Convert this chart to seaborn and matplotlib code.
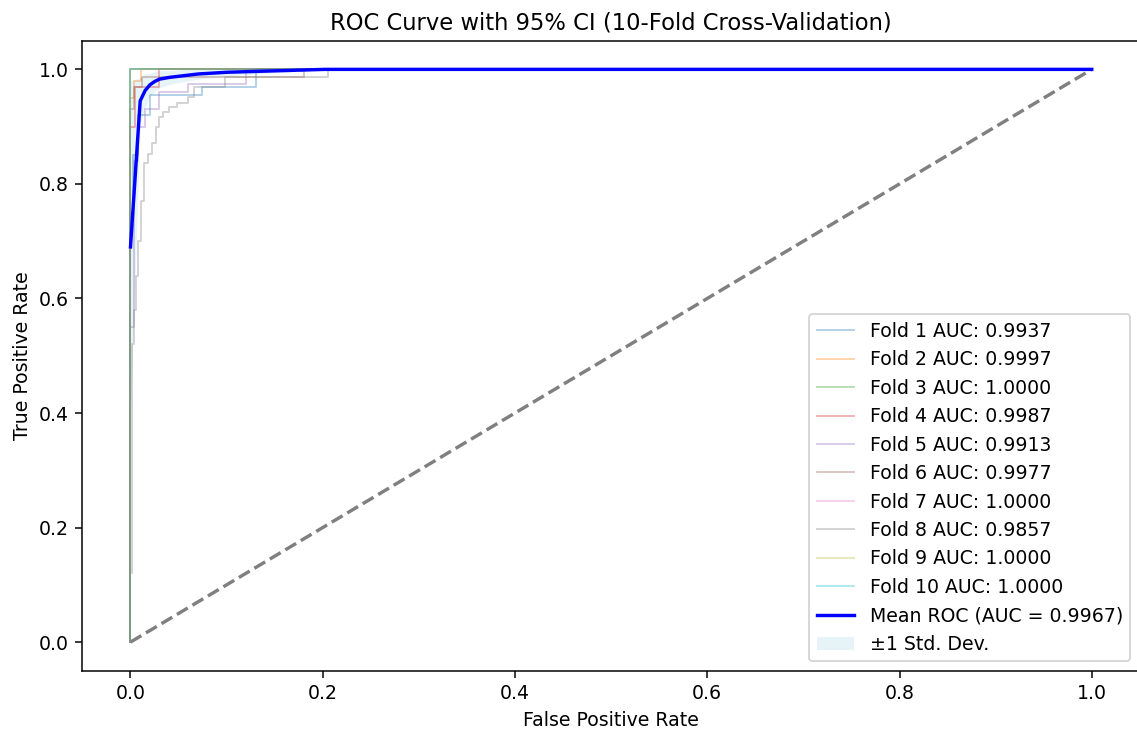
import numpy as np
import pandas as pd
import matplotlib
matplotlib.use("Agg")
import matplotlib.pyplot as plt
import seaborn as sns

# ---- data ----
fold_names = [f"Fold {i}" for i in range(1, 11)]
fold_aucs = [0.9937, 0.9997, 1.0000, 0.9987, 0.9913, 0.9977, 1.0000, 0.9857, 1.0000, 1.0000]

fold1_fpr = [0, 0, 0.003, 0.003, 0.008, 0.008, 0.02, 0.02, 0.074, 0.074, 0.131, 0.131, 1]
fold1_tpr = [0, 0.75, 0.75, 0.85, 0.85, 0.92, 0.92, 0.955, 0.955, 0.969, 0.969, 1, 1]
fold2_fpr = [0, 0, 0.004, 0.004, 0.011, 0.011, 1]
fold2_tpr = [0, 0.95, 0.95, 0.98, 0.98, 1, 1]
fold3_fpr = [0, 0, 1]
fold3_tpr = [0, 1, 1]
fold4_fpr = [0, 0, 0.005, 0.005, 0.03, 0.03, 1]
fold4_tpr = [0, 0.9, 0.9, 0.97, 0.97, 1, 1]
fold5_fpr = [0, 0, 0.004, 0.004, 0.008, 0.008, 0.015, 0.015, 0.03, 0.03, 0.06, 0.06, 0.12, 0.12, 1]
fold5_tpr = [0, 0.55, 0.55, 0.84, 0.84, 0.9, 0.9, 0.93, 0.93, 0.96, 0.96, 0.975, 0.975, 1, 1]
fold6_fpr = [0, 0, 0.004, 0.004, 0.012, 0.012, 0.18, 0.18, 1]
fold6_tpr = [0, 0.93, 0.93, 0.969, 0.969, 0.986, 0.986, 1, 1]
fold7_fpr = [0, 0, 1]
fold7_tpr = [0, 1, 1]
fold8_fpr = [0, 0, 0.002, 0.002, 0.004, 0.004, 0.006, 0.006, 0.008, 0.008, 0.011, 0.011,
             0.014, 0.014, 0.018, 0.018, 0.022, 0.022, 0.027, 0.027, 0.030, 0.030, 0.034, 0.034,
             0.040, 0.040, 0.048, 0.048, 0.060, 0.060, 0.066, 0.066, 0.098, 0.098, 0.205, 0.205, 1]
fold8_tpr = [0, 0.12, 0.12, 0.52, 0.52, 0.58, 0.58, 0.64, 0.64, 0.70, 0.70, 0.77,
             0.77, 0.836, 0.836, 0.853, 0.853, 0.871, 0.871, 0.899, 0.899, 0.916, 0.916, 0.925,
             0.925, 0.934, 0.934, 0.942, 0.942, 0.951, 0.951, 0.969, 0.969, 0.986, 0.986, 1, 1]
fold9_fpr = [0, 0, 1]
fold9_tpr = [0, 1, 1]
fold10_fpr = [0, 0, 1]
fold10_tpr = [0, 1, 1]

fold_fprs = [fold1_fpr, fold2_fpr, fold3_fpr, fold4_fpr, fold5_fpr,
             fold6_fpr, fold7_fpr, fold8_fpr, fold9_fpr, fold10_fpr]
fold_tprs = [fold1_tpr, fold2_tpr, fold3_tpr, fold4_tpr, fold5_tpr,
             fold6_tpr, fold7_tpr, fold8_tpr, fold9_tpr, fold10_tpr]

mean_fpr = [0.0, 0.0101, 0.0152, 0.0202, 0.0253, 0.0303, 0.0404, 0.0505, 0.0606, 0.0707, 0.0808,
            0.0909, 0.1010, 0.1212, 0.1414, 0.1616, 0.1818, 0.2020, 1.0]
mean_tpr = [0.69, 0.945, 0.963, 0.973, 0.979, 0.983, 0.986, 0.988, 0.990, 0.992, 0.993,
            0.994, 0.995, 0.996, 0.997, 0.998, 0.999, 1.0, 1.0]
std_tpr = [0.29, 0.04, 0.03, 0.02, 0.017, 0.015, 0.012, 0.011, 0.010, 0.009, 0.008,
           0.007, 0.006, 0.005, 0.004, 0.003, 0.002, 0.0, 0.0]
mean_auc = 0.9967

# ---- plotting ----
dpi = 136
fig = plt.figure(figsize=(1137 / dpi, 734 / dpi), dpi=dpi)
ax = fig.add_axes([0.0725, 0.0862, 0.930, 0.8583])

colors = sns.color_palette("tab10", 10)
for i in range(10):
    df = pd.DataFrame({"fpr": fold_fprs[i], "tpr": fold_tprs[i]})
    sns.lineplot(data=df, x="fpr", y="tpr", ax=ax, sort=False, estimator=None,
                 color=colors[i], alpha=0.35, lw=1,
                 label=f"{fold_names[i]} AUC: {fold_aucs[i]:.4f}")

ax.plot([0, 1], [0, 1], linestyle="--", lw=1.8, color="gray")

mdf = pd.DataFrame({"fpr": mean_fpr, "tpr": mean_tpr})
sns.lineplot(data=mdf, x="fpr", y="tpr", ax=ax, sort=False, estimator=None,
             color="blue", lw=1.8, label=f"Mean ROC (AUC = {mean_auc:.4f})")

upper = np.minimum(np.array(mean_tpr) + np.array(std_tpr), 1)
lower = np.maximum(np.array(mean_tpr) - np.array(std_tpr), 0)
ax.fill_between(mean_fpr, lower, upper, color="lightblue", alpha=0.3, lw=0,
                label="±1 Std. Dev.")

ax.set_xlim(-0.05, 1.05)
ax.set_ylim(-0.05, 1.05)
ax.set_xlabel("False Positive Rate")
ax.set_ylabel("True Positive Rate")
ax.set_title("ROC Curve with 95% CI (10-Fold Cross-Validation)", fontsize=12)
ax.legend(loc="lower right")

fig.savefig("out.png", dpi=dpi)
